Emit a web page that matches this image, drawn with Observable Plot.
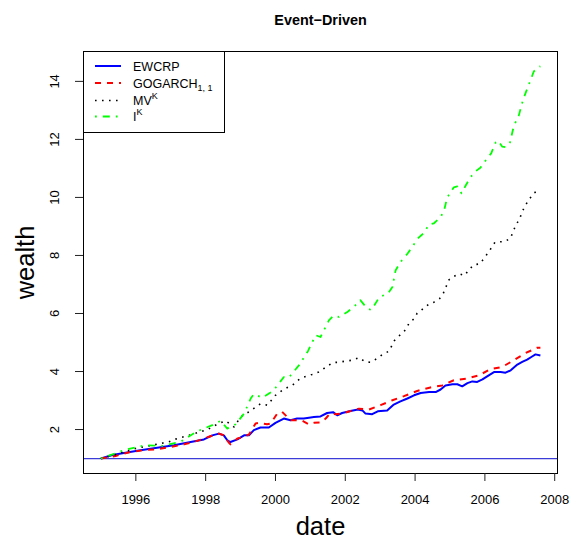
<!DOCTYPE html>
<html>
<head>
<meta charset="utf-8">
<script src="https://cdn.jsdelivr.net/npm/d3@7"></script>
<script src="https://cdn.jsdelivr.net/npm/@observablehq/plot@0.6"></script>
<style>
  html, body { margin: 0; padding: 0; background: #fff; }
  svg { display: block; }
</style>
</head>
<body>
<div id="chart"></div>
<script>
// ---- data (decimal year, wealth) ----
const title = "Event\u2212Driven";
const xLabel = "date";
const yLabel = "wealth";
const xTicks = [1996, 1998, 2000, 2002, 2004, 2006, 2008];
const yTicks = [2, 4, 6, 8, 10, 12, 14];
const baseline = [1];

const ewcrp = [[1995.0,1.0],[1995.33,1.12],[1995.66,1.19],[1996.13,1.29],[1996.61,1.37],[1997.09,1.46],[1997.57,1.57],[1997.95,1.66],[1998.19,1.80],[1998.38,1.86],[1998.52,1.80],[1998.62,1.63],[1998.71,1.57],[1998.91,1.66],[1999.10,1.80],[1999.24,1.80],[1999.38,1.98],[1999.57,2.07],[1999.81,2.07],[2000.0,2.23],[2000.24,2.38],[2000.43,2.32],[2000.62,2.38],[2000.81,2.38],[2000.96,2.41],[2001.10,2.43],[2001.29,2.45],[2001.48,2.57],[2001.65,2.60],[2001.77,2.49],[2001.91,2.57],[2002.15,2.64],[2002.36,2.69],[2002.49,2.66],[2002.58,2.55],[2002.77,2.53],[2002.93,2.63],[2003.20,2.66],[2003.39,2.86],[2003.58,2.97],[2003.78,3.07],[2003.97,3.18],[2004.16,3.26],[2004.40,3.29],[2004.59,3.29],[2004.73,3.38],[2004.87,3.52],[2005.07,3.56],[2005.21,3.56],[2005.35,3.49],[2005.50,3.60],[2005.64,3.66],[2005.78,3.64],[2005.93,3.73],[2006.11,3.87],[2006.26,3.98],[2006.45,3.98],[2006.59,3.96],[2006.74,4.04],[2006.93,4.24],[2007.07,4.33],[2007.21,4.41],[2007.33,4.50],[2007.45,4.59],[2007.59,4.55]];

const gogarch = [[1995.0,1.0],[1995.42,1.09],[1995.85,1.23],[1996.23,1.29],[1996.61,1.32],[1996.99,1.40],[1997.38,1.49],[1997.76,1.61],[1998.09,1.75],[1998.38,1.86],[1998.52,1.80],[1998.67,1.54],[1998.71,1.49],[1998.91,1.69],[1999.10,1.75],[1999.24,1.83],[1999.43,2.21],[1999.52,2.23],[1999.76,2.18],[1999.86,2.21],[2000.05,2.55],[2000.19,2.61],[2000.34,2.43],[2000.43,2.32],[2000.62,2.32],[2000.77,2.30],[2000.96,2.18],[2001.10,2.23],[2001.29,2.24],[2001.44,2.38],[2001.56,2.55],[2001.72,2.53],[2001.91,2.55],[2002.20,2.66],[2002.39,2.72],[2002.68,2.69],[2003.01,2.84],[2003.35,3.01],[2003.68,3.15],[2004.06,3.33],[2004.44,3.45],[2004.78,3.52],[2005.11,3.70],[2005.50,3.76],[2005.83,3.87],[2006.16,4.08],[2006.50,4.16],[2006.83,4.39],[2007.17,4.64],[2007.50,4.82],[2007.59,4.82]];

const mvK = [[1995.0,1.0],[1995.25,1.08],[1995.51,1.17],[1996.0,1.35],[1996.47,1.46],[1996.95,1.58],[1997.14,1.67],[1997.52,1.80],[1998.05,2.0],[1998.38,2.21],[1998.57,2.30],[1998.81,2.09],[1999.0,2.43],[1999.24,2.61],[1999.57,2.89],[1999.77,2.84],[2000.0,3.18],[2000.19,3.35],[2000.34,3.45],[2000.48,3.52],[2000.67,3.72],[2000.81,3.81],[2001.05,3.90],[2001.24,3.98],[2001.48,4.18],[2001.65,4.31],[2001.82,4.32],[2002.01,4.36],[2002.20,4.39],[2002.39,4.48],[2002.58,4.33],[2002.73,4.32],[2002.90,4.44],[2003.06,4.58],[2003.25,4.70],[2003.41,5.07],[2003.58,5.27],[2003.73,5.44],[2003.82,5.65],[2003.97,5.82],[2004.06,6.01],[2004.24,6.17],[2004.40,6.33],[2004.54,6.39],[2004.70,6.51],[2004.81,6.70],[2004.89,6.93],[2004.97,7.16],[2005.11,7.28],[2005.27,7.37],[2005.42,7.31],[2005.54,7.51],[2005.69,7.68],[2005.85,7.71],[2005.97,7.89],[2006.07,8.06],[2006.18,8.25],[2006.29,8.46],[2006.41,8.47],[2006.58,8.48],[2006.74,8.61],[2006.81,8.84],[2006.90,9.07],[2007.0,9.28],[2007.07,9.51],[2007.17,9.75],[2007.28,9.95],[2007.39,10.14],[2007.53,10.24],[2007.59,10.26]];

const iK = [[1995.0,1.0],[1995.23,1.10],[1995.5,1.22],[1995.75,1.32],[1996.28,1.46],[1996.76,1.44],[1997.28,1.58],[1997.76,1.94],[1998.19,2.15],[1998.43,2.30],[1998.62,2.03],[1998.86,2.18],[1999.10,2.55],[1999.29,3.07],[1999.38,3.22],[1999.62,3.10],[1999.93,3.33],[2000.15,3.67],[2000.24,3.81],[2000.38,3.79],[2000.67,4.21],[2000.93,4.70],[2001.15,5.25],[2001.29,5.19],[2001.53,5.76],[2001.67,5.93],[2001.82,5.88],[2002.06,6.05],[2002.25,6.23],[2002.43,6.46],[2002.63,6.17],[2002.75,6.12],[2002.98,6.57],[2003.22,6.68],[2003.35,6.91],[2003.44,7.48],[2003.58,7.77],[2003.78,8.06],[2003.92,8.29],[2004.06,8.57],[2004.25,8.77],[2004.40,9.07],[2004.54,9.11],[2004.73,9.32],[2004.83,9.55],[2004.92,10.0],[2005.11,10.35],[2005.21,10.38],[2005.33,10.14],[2005.45,10.41],[2005.59,10.70],[2005.73,10.90],[2005.87,11.02],[2006.02,11.27],[2006.18,11.52],[2006.31,11.90],[2006.37,11.96],[2006.50,11.75],[2006.59,11.73],[2006.72,11.90],[2006.83,12.47],[2006.97,12.82],[2007.10,13.39],[2007.21,13.74],[2007.31,14.05],[2007.40,14.34],[2007.55,14.50],[2007.59,14.52]];

const seriesNames = ["EWCRP", "GOGARCH", "MV", "I"];

// ---- styles ----
const styles = [
  {data: ewcrp,   stroke: "#0000ff", strokeWidth: 2,   dash: null},
  {data: gogarch, stroke: "#ff0000", strokeWidth: 2,   dash: "6,6"},
  {data: mvK,     stroke: "#000000", strokeWidth: 1.6, dash: "1.6,5.4"},
  {data: iK,      stroke: "#00ff00", strokeWidth: 1.8, dash: "1.8,6,7,6"}
];

const font = "'Liberation Sans', Arial, Helvetica, sans-serif";

const chart = Plot.plot({
  width: 570,
  height: 543,
  marginTop: 51,
  marginBottom: 70,
  marginLeft: 83,
  marginRight: 13,
  x: {domain: [1994.5, 2008.08]},
  y: {domain: [0.485, 15.03]},
  style: {fontFamily: font, fontSize: "13px", background: "#fff", color: "#000"},
  marks: [
    Plot.ruleY(baseline, {stroke: "#3c3cd8", strokeWidth: 1.2}),
    ...styles.map(s => Plot.line(s.data, {
      x: d => d[0], y: d => d[1],
      stroke: s.stroke, strokeWidth: s.strokeWidth,
      strokeDasharray: s.dash, strokeLinecap: "butt", strokeLinejoin: "round"
    })),
    Plot.frame({stroke: "#000", strokeWidth: 1}),
    Plot.axisX(xTicks, {tickSize: 8, tickPadding: 13, tickFormat: d => String(d), label: null, stroke: "#222"}),
    Plot.axisY(yTicks, {tickSize: 8, tickPadding: 17, tickRotate: -90, tickFormat: d => String(d), label: null, stroke: "#222"}),
    Plot.text([title], {text: d => d, frameAnchor: "top", dy: -27, lineAnchor: "bottom", fontWeight: "bold", fontSize: 14.4}),
    Plot.text([xLabel], {text: d => d, frameAnchor: "bottom", dy: 61, lineAnchor: "bottom", fontSize: 25.5}),
    Plot.text([yLabel], {text: d => d, frameAnchor: "left", dx: -50, rotate: -90, textAnchor: "middle", lineAnchor: "bottom", fontSize: 25.5})
  ]
});

// ---- legend (inside the plot frame, top-left) ----
const svg = d3.select(chart);
const lg = svg.append("g").attr("font-family", font).attr("font-size", 12.5).attr("text-anchor", "start");
lg.append("rect").attr("x", 83.5).attr("y", 51.5).attr("width", 141).attr("height", 81)
  .attr("fill", "#fff").attr("stroke", "#000").attr("stroke-width", 1);
const rowY = [66, 83, 100.5, 116.5];
styles.forEach((s, i) => {
  lg.append("line").attr("x1", 95).attr("x2", 121).attr("y1", rowY[i]).attr("y2", rowY[i])
    .attr("stroke", s.stroke).attr("stroke-width", s.strokeWidth)
    .attr("stroke-dasharray", s.dash).attr("stroke-linecap", "butt");
  const t = lg.append("text").attr("x", 133).attr("y", rowY[i] + 4.5)
    .attr("fill", "#000").attr("text-anchor", "start");
  t.append("tspan").text(seriesNames[i]);
  if (i === 1) {
    t.append("tspan").attr("font-size", 9).attr("dy", 3).text("1, 1");
  } else if (i >= 2) {
    t.append("tspan").attr("font-size", 9).attr("dy", -6).text("K");
  }
});

document.getElementById("chart").appendChild(chart);
</script>
</body>
</html>
